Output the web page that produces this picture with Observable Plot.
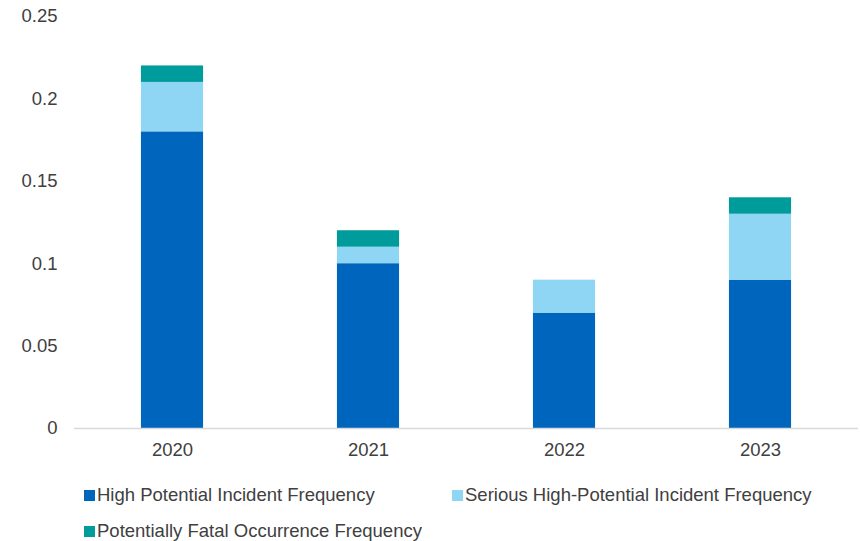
<!DOCTYPE html>
<html>
<head>
<meta charset="utf-8">
<script src="https://cdn.jsdelivr.net/npm/d3@7"></script>
<script src="https://cdn.jsdelivr.net/npm/@observablehq/plot@0.6"></script>
<style>
  body { margin: 0; background: #fff; font-family: "Liberation Sans", Arial, sans-serif; }
  #chart svg { display: block; }
  .legend { display: flex; flex-wrap: wrap; padding-left: 84px; margin-top: 17px; color: #404040; font-size: 18.5px; }
  .item { width: 368px; height: 36px; display: flex; align-items: center; }
  .sw { width: 11px; height: 11px; margin-right: 2px; flex: none; }
</style>
</head>
<body>
<div id="chart"></div>
<div class="legend" id="legend"></div>
<script>
const years = ["2020", "2021", "2022", "2023"];
const series = ["High Potential Incident Frequency", "Serious High-Potential Incident Frequency", "Potentially Fatal Occurrence Frequency"];
const highPotential = [0.18, 0.10, 0.07, 0.09];
const seriousHighPotential = [0.03, 0.01, 0.02, 0.04];
const potentiallyFatal = [0.01, 0.01, 0.00, 0.01];
const colors = ["#0065bd", "#8ed6f4", "#009b9b"];
const yTicks = [0, 0.05, 0.1, 0.15, 0.2, 0.25];

const valuesBySeries = [highPotential, seriousHighPotential, potentiallyFatal];
const data = [];
series.forEach((s, si) => years.forEach((y, yi) => data.push({year: y, series: s, value: valuesBySeries[si][yi]})));

const chart = Plot.plot({
  width: 860,
  height: 460,
  marginTop: 16,
  marginBottom: 32,
  marginLeft: 74,
  marginRight: 2,
  style: {fontFamily: "Liberation Sans, Arial, sans-serif", fontSize: "18.5px", color: "#404040"},
  x: {domain: years, paddingInner: 0.683, paddingOuter: 0.3415, round: false, label: null},
  y: {domain: [0, 0.25], label: null},
  color: {domain: series, range: colors},
  marks: [
    Plot.barY(data, Plot.stackY({order: series}, {x: "year", y: "value", fill: "series"})),
    Plot.ruleY([0], {stroke: "#d9d9d9", strokeWidth: 1.5}),
    Plot.axisY({ticks: yTicks, tickSize: 0, tickPadding: 17, tickFormat: d => String(d), fill: "#404040", fontSize: 18.5}),
    Plot.axisX({tickSize: 0, tickPadding: 14, fill: "#404040", fontSize: 18.5})
  ]
});
document.getElementById("chart").appendChild(chart);

const legend = document.getElementById("legend");
series.forEach((s, i) => {
  const it = document.createElement("div");
  it.className = "item";
  it.innerHTML = `<span class="sw" style="background:${colors[i]}"></span><span>${s}</span>`;
  legend.appendChild(it);
});
</script>
</body>
</html>
